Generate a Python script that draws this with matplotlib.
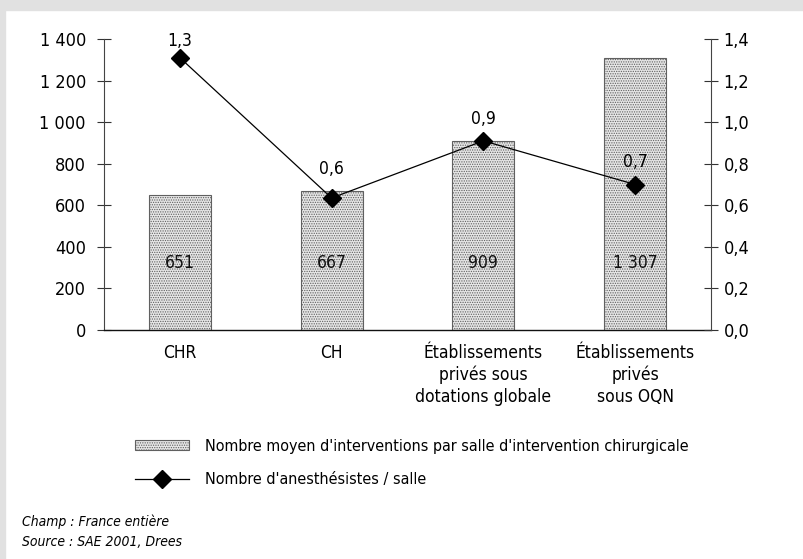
import matplotlib
matplotlib.use("Agg")
import matplotlib.pyplot as plt
from matplotlib.patches import Rectangle
from matplotlib.lines import Line2D
import numpy as np

# data
categories = ["CHR", "CH", "Établissements\nprivés sous\ndotations globale", "Établissements\nprivés\nsous OQN"]
interventions = [651, 667, 909, 1307]
interventionLabels = ["651", "667", "909", "1 307"]
anesthesistes = [1.31, 0.635, 0.91, 0.70]
anesthLabels = ["1,3", "0,6", "0,9", "0,7"]
leftTicks = [0, 200, 400, 600, 800, 1000, 1200, 1400]
leftTickLabels = ["0", "200", "400", "600", "800", "1 000", "1 200", "1 400"]
rightTicks = [0.0, 0.2, 0.4, 0.6, 0.8, 1.0, 1.2, 1.4]
rightTickLabels = ["0,0", "0,2", "0,4", "0,6", "0,8", "1,0", "1,2", "1,4"]

plt.rcParams['font.family'] = ['DejaVu Sans']
plt.rcParams['font.stretch'] = 'condensed'
plt.rcParams['hatch.linewidth'] = 0.6
plt.rcParams['hatch.color'] = '#8f8f8f'

fig = plt.figure(figsize=(8.04, 5.59), dpi=100)
fig.patch.set_facecolor('white')
# grey frame strips (top and left)
fig.patches.append(Rectangle((0, 1 - 10/559), 1, 10/559, transform=fig.transFigure, color='#e1e1e1', zorder=0))
fig.patches.append(Rectangle((0, 0), 5/804, 1, transform=fig.transFigure, color='#e1e1e1', zorder=0))

ax = fig.add_axes([104/804, 1 - 330/559, 607/804, 291/559])
ax2 = ax.twinx()

x = np.arange(len(categories))
bars = ax.bar(x, interventions, width=0.41, facecolor='#e6e6e6', edgecolor='#606060',
              linewidth=0.8, hatch='.......', zorder=2)
for xi, lab in zip(x, interventionLabels):
    ax.text(xi, 320, lab, ha='center', va='center', fontsize=12.5, color='#111111', zorder=3)

ax.set_xlim(-0.5, len(categories) - 0.5)
ax.set_ylim(0, 1400)
ax.set_yticks(leftTicks)
ax.set_yticklabels(leftTickLabels, fontsize=13)
ax.set_xticks(x)
ax.set_xticklabels(categories, fontsize=12.5, linespacing=1.25)
ax.tick_params(axis='x', length=0, pad=10)
ax.tick_params(axis='y', direction='inout', length=10, width=0.8, pad=8, color='#333333')
for s in ['top', 'right']:
    ax.spines[s].set_visible(False)
ax.spines['left'].set_color('#444444')
ax.spines['bottom'].set_color('#111111')
ax.spines['bottom'].set_linewidth(1.0)

ax2.plot(x, anesthesistes, color='black', linewidth=0.9, marker='D', markersize=9.5, zorder=4)
offsets = [12, 21, 16, 16]
for xi, v, lab, off in zip(x, anesthesistes, anesthLabels, offsets):
    ax2.annotate(lab, (xi, v), xytext=(0, off), textcoords='offset points',
                 ha='center', va='center', fontsize=12.5)
ax2.set_ylim(0, 1.4)
ax2.set_yticks(rightTicks)
ax2.set_yticklabels(rightTickLabels, fontsize=13)
ax2.tick_params(axis='y', direction='inout', length=10, width=0.8, pad=4, color='#333333')
for s in ['top', 'left', 'bottom']:
    ax2.spines[s].set_visible(False)
ax2.spines['right'].set_color('#444444')

handles = [Rectangle((0, 0), 1, 1, facecolor='#e6e6e6', edgecolor='#606060', linewidth=0.8, hatch='.......'),
           Line2D([], [], color='black', linewidth=0.9, marker='D', markersize=9.5)]
labels = ["Nombre moyen d'interventions par salle d'intervention chirurgicale",
          "Nombre d'anesthésistes / salle"]
fig.legend(handles, labels, loc='upper left', bbox_to_anchor=(135/804, 1 - 439/559),
           frameon=False, fontsize=11.5, handlelength=3.4, handleheight=0.6,
           handletextpad=1.0, labelspacing=1.12, borderpad=0, borderaxespad=0)

fig.text(22/804, 1 - 522/559, "Champ : France entière", style='italic', fontsize=10, va='center')
fig.text(22/804, 1 - 542/559, "Source : SAE 2001, Drees", style='italic', fontsize=10, va='center')

fig.savefig("out.png", dpi=100)
